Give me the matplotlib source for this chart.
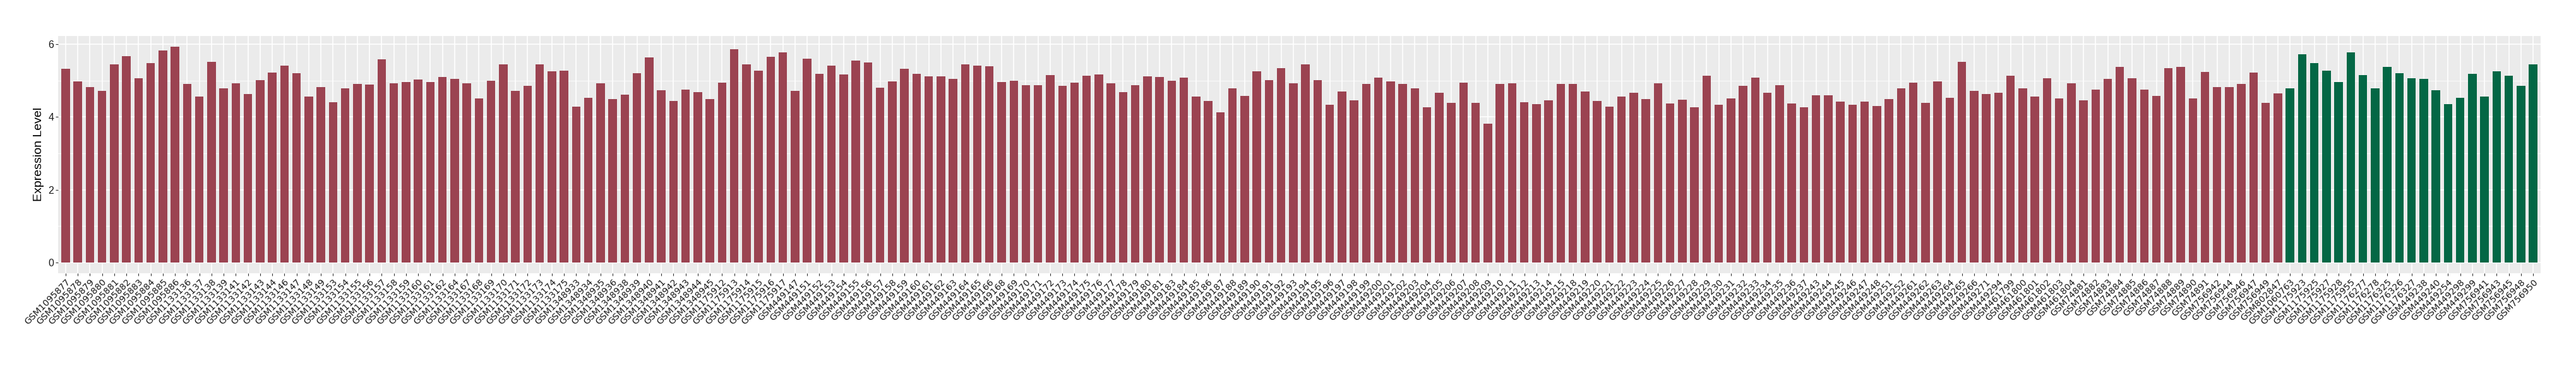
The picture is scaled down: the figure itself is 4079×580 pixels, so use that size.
import matplotlib
matplotlib.use('Agg')
import matplotlib.pyplot as plt
import numpy as np

# samples in the first group (red) and their expression values
red_samples = [
  'GSM1095877', 'GSM1095878', 'GSM1095879', 'GSM1095880', 'GSM1095881', 'GSM1095882',
  'GSM1095883', 'GSM1095884', 'GSM1095885', 'GSM1095886',
  'GSM1133136', 'GSM1133137', 'GSM1133138', 'GSM1133139', 'GSM1133141', 'GSM1133142',
  'GSM1133143', 'GSM1133144', 'GSM1133146', 'GSM1133147', 'GSM1133148', 'GSM1133149',
  'GSM1133153', 'GSM1133154', 'GSM1133155', 'GSM1133156', 'GSM1133157', 'GSM1133158',
  'GSM1133159', 'GSM1133160', 'GSM1133161', 'GSM1133162', 'GSM1133164', 'GSM1133167',
  'GSM1133168', 'GSM1133169', 'GSM1133170', 'GSM1133171', 'GSM1133172', 'GSM1133173',
  'GSM1133174', 'GSM1133175',
  'GSM1348933', 'GSM1348934', 'GSM1348935', 'GSM1348936', 'GSM1348938', 'GSM1348939',
  'GSM1348940', 'GSM1348941', 'GSM1348942', 'GSM1348943', 'GSM1348944', 'GSM1348945',
  'GSM1175912', 'GSM1175913', 'GSM1175914', 'GSM1175915', 'GSM1175916', 'GSM1175917',
  'GSM449147', 'GSM449151', 'GSM449152', 'GSM449153', 'GSM449154', 'GSM449155',
  'GSM449156', 'GSM449157', 'GSM449158', 'GSM449159', 'GSM449160', 'GSM449161',
  'GSM449162', 'GSM449163', 'GSM449164', 'GSM449165', 'GSM449166', 'GSM449168',
  'GSM449169', 'GSM449170', 'GSM449171', 'GSM449172', 'GSM449173', 'GSM449174',
  'GSM449175', 'GSM449176', 'GSM449177', 'GSM449178', 'GSM449179', 'GSM449180',
  'GSM449181', 'GSM449183', 'GSM449184', 'GSM449185', 'GSM449186', 'GSM449187',
  'GSM449188', 'GSM449189', 'GSM449190', 'GSM449191', 'GSM449192', 'GSM449193',
  'GSM449194', 'GSM449195', 'GSM449196', 'GSM449197', 'GSM449198', 'GSM449199',
  'GSM449200', 'GSM449201', 'GSM449202', 'GSM449203', 'GSM449204', 'GSM449205',
  'GSM449206', 'GSM449207', 'GSM449208', 'GSM449209', 'GSM449210', 'GSM449211',
  'GSM449212', 'GSM449213', 'GSM449214', 'GSM449215', 'GSM449218', 'GSM449219',
  'GSM449220', 'GSM449221', 'GSM449222', 'GSM449223', 'GSM449224', 'GSM449225',
  'GSM449226', 'GSM449227', 'GSM449228', 'GSM449229', 'GSM449230', 'GSM449231',
  'GSM449232', 'GSM449233', 'GSM449234', 'GSM449235', 'GSM449236', 'GSM449237',
  'GSM449243', 'GSM449244', 'GSM449245', 'GSM449246', 'GSM449247', 'GSM449248',
  'GSM449251', 'GSM449252', 'GSM449261', 'GSM449262', 'GSM449263', 'GSM449264',
  'GSM449265', 'GSM449266', 'GSM449271', 'GSM449294',
  'GSM461799', 'GSM461800', 'GSM461801', 'GSM461802', 'GSM461803', 'GSM461804',
  'GSM74881', 'GSM74882', 'GSM74883', 'GSM74884', 'GSM74885', 'GSM74886',
  'GSM74887', 'GSM74888', 'GSM74889', 'GSM74890', 'GSM74891',
  'GSM756942', 'GSM756944', 'GSM756946', 'GSM756947', 'GSM756949', 'GSM802847',
]
red_values = [
  5.33, 4.98, 4.83, 4.72, 5.45, 5.67, 5.07, 5.49, 5.83, 5.94,
  4.91, 4.56, 5.52, 4.79, 4.93, 4.63, 5.02, 5.22, 5.42, 5.21, 4.56, 4.83,
  4.41, 4.79, 4.91, 4.90, 5.59, 4.93, 4.97, 5.03, 4.97, 5.10, 5.05, 4.93,
  4.51, 5.00, 5.45, 4.72, 4.86, 5.44, 5.26, 5.28,
  4.29, 4.53, 4.93, 4.50, 4.61, 5.21, 5.64, 4.74, 4.44, 4.76, 4.69, 4.50,
  4.95, 5.87, 5.44, 5.28, 5.66, 5.78,
  4.72, 5.61, 5.19, 5.42, 5.17, 5.55, 5.50, 4.81, 4.98, 5.33, 5.19, 5.12,
  5.12, 5.05, 5.44, 5.42, 5.40, 4.97, 5.00, 4.88, 4.88, 5.15, 4.86, 4.95,
  5.14, 5.17, 4.93, 4.69, 4.88, 5.12, 5.10, 5.00, 5.08, 4.56, 4.44, 4.13,
  4.79, 4.58, 5.26, 5.02, 5.35, 4.93, 5.45, 5.02, 4.34, 4.70, 4.46, 4.91,
  5.08, 4.98, 4.91, 4.78, 4.27, 4.67, 4.39, 4.95, 4.39, 3.82, 4.91, 4.93,
  4.41, 4.36, 4.46, 4.91, 4.91, 4.70, 4.44, 4.29, 4.56, 4.67, 4.50, 4.93,
  4.38, 4.48, 4.27, 5.14, 4.34, 4.51, 4.85, 5.08, 4.67, 4.88, 4.38, 4.26,
  4.60, 4.60, 4.43, 4.33, 4.43, 4.31, 4.50, 4.78, 4.95, 4.39, 4.98, 4.53,
  5.52, 4.72, 4.63, 4.67,
  5.14, 4.79, 4.56, 5.07, 4.51, 4.93,
  4.46, 4.76, 5.05, 5.38, 5.07, 4.76, 4.58, 5.35, 5.38, 4.51, 5.24,
  4.83, 4.83, 4.91, 5.22, 4.39, 4.65,
]

# samples in the second group (green)
green_samples = [
  'GSM1060763', 'GSM1175923', 'GSM1175925', 'GSM1175927', 'GSM1175928', 'GSM1175955',
  'GSM1176277', 'GSM1176278', 'GSM1176325', 'GSM1176326', 'GSM1176327',
  'GSM449238', 'GSM449240', 'GSM449254', 'GSM449298', 'GSM449299',
  'GSM756941', 'GSM756943', 'GSM756945', 'GSM756948', 'GSM756950',
]
green_values = [
  4.78, 5.73, 5.49, 5.28, 4.97, 5.78, 5.15, 4.78, 5.38, 5.21, 5.07,
  5.05, 4.74, 4.36, 4.53, 5.19, 4.56, 5.26, 5.14, 4.85, 5.45,
]

red_color = '#9b4351'
green_color = '#036745'

samples = red_samples + green_samples
values = red_values + green_values
colors = [red_color] * len(red_samples) + [green_color] * len(green_samples)
x = np.arange(len(samples))

fig = plt.figure(figsize=(40.8, 5.8), dpi=100)
ax = fig.add_axes([0.02265, 0.2538, 0.96331, 0.6486])

ax.set_facecolor('#ebebeb')
ax.bar(x, values, width=0.7, color=colors, zorder=3)

ax.set_xlim(-0.6, len(samples) - 0.4)
top = max(values) * 1.05
ax.set_ylim(-0.05 * max(values), top)

ax.set_yticks([0, 2, 4, 6])
ax.set_yticks([1, 3, 5], minor=True)
ax.set_xticks(x)
ax.set_xticklabels(samples, rotation=45, ha='right', va='top',
                   rotation_mode='anchor', fontsize=10.3, family='DejaVu Sans', color='#1a1a1a')
for lab in ax.get_yticklabels():
  lab.set_family('Liberation Sans')
  lab.set_fontsize(11.5)
  lab.set_color('#4d4d4d')

ax.grid(which='major', color='white', linewidth=1.2, zorder=0)
ax.grid(which='minor', axis='y', color='white', linewidth=0.6, zorder=0)
ax.tick_params(axis='both', which='major', length=3, width=0.8, color='#333333', pad=2)
ax.tick_params(axis='y', which='minor', length=0)
ax.tick_params(axis='y', labelcolor='#1a1a1a')
for s in ax.spines.values():
  s.set_visible(False)

ax.set_ylabel('Expression Level', fontsize=14, family='Liberation Sans', labelpad=5)

fig.savefig('out.png', dpi=100)
